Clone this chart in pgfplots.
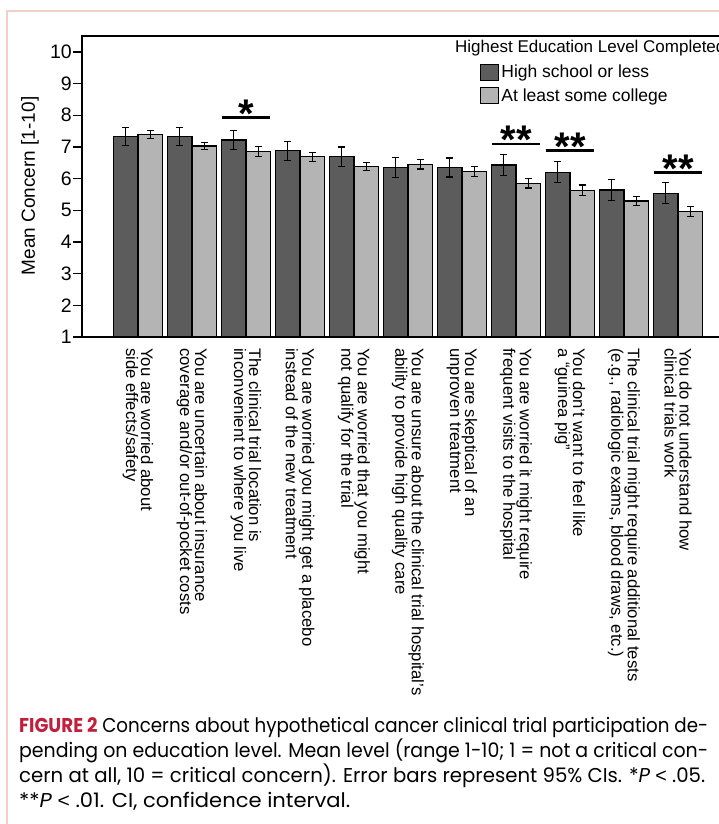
\documentclass[border=0pt]{standalone}
\usepackage{fontspec}
\setmainfont{Liberation Sans}
\newfontfamily\capfont{Poppins}
\newfontfamily\ltfont{Liberation Sans}
\usepackage{graphicx}
\usepackage{pgfplots}
\usepackage{pgfplotstable}
\pgfplotsset{compat=1.18}
\definecolor{darkbar}{RGB}{92,92,92}
\definecolor{lightbar}{RGB}{180,180,180}
\definecolor{pinkline}{RGB}{242,208,200}
\definecolor{figred}{RGB}{193,32,60}

\pgfplotstableread{
x hs hserr col colerr
0 7.33 0.28 7.40 0.13
1 7.33 0.28 7.03 0.12
2 7.22 0.29 6.85 0.16
3 6.88 0.30 6.69 0.14
4 6.69 0.31 6.38 0.13
5 6.35 0.31 6.45 0.15
6 6.35 0.30 6.22 0.16
7 6.43 0.33 5.85 0.15
8 6.20 0.33 5.63 0.17
9 5.64 0.34 5.29 0.14
10 5.54 0.33 4.96 0.16
}\data

\begin{document}
\begin{tikzpicture}
\draw[pinkline, line width=2pt] (7pt,-830pt) -- (7pt,-11pt) -- (730pt,-11pt);
\begin{axis}[
  at={(82pt,-337pt)}, anchor=south west,
  scale only axis, width=652pt, height=301pt,
  xmin=-1.037, xmax=11.037, ymin=1, ymax=10.5,
  ybar=0pt, bar width=24.5pt,
  axis line style={line width=1.3pt},
  ytick={1,...,10},
  xtick={0,...,10},
  xticklabels={
    {You are worried about\\side effects/safety},
    {You are uncertain about insurance\\coverage and/or out-of-pocket costs},
    {The clinical trial location is\\inconvenient to where you live},
    {You are worried you might get a placebo\\instead of the new treatment},
    {You are worried that you might\\not qualify for the trial},
    {You are unsure about the clinical trial hospital’s\\ability to provide high quality care},
    {You are skeptical of an\\unproven treatment},
    {You are worried it might require\\frequent visits to the hospital},
    {You don’t want to feel like\\a “guinea pig”},
    {The clinical trial might require additional tests\\(e.g., radiologic exams, blood draws, etc.)},
    {You do not understand how\\clinical trials work}},
  x tick style={draw=none},
  y tick style={line width=1.3pt, black},
  ytick align=outside, xtick align=inside,
  major tick length=9pt,
  yticklabel style={font=\fontsize{19.5}{19.5}\selectfont, inner sep=1pt},
  /pgf/number format/assume math mode=true,
  xticklabel style={rotate=-90, anchor=west, align=left, font=\fontsize{16.7}{15}\selectfont, inner sep=0pt},
  xticklabel shift=11pt,
  ylabel={Mean Concern [1-10]},
  ylabel style={at={(axis description cs:-0.0798,0.502)}, anchor=center, font=\fontsize{19}{19}\selectfont},
  legend style={at={(0.6104,0.9103)}, anchor=north west, draw=none, fill=none, inner sep=0pt, row sep=5pt, font=\fontsize{17.5}{17.5}\selectfont, /tikz/every even column/.append style={column sep=3pt}},
  legend cell align=left,
  error bars/y dir=both, error bars/y explicit,
]
\addplot[fill=darkbar, draw=black, line width=1.2pt,
  legend image code/.code={\draw[fill=darkbar, draw=black, line width=1.2pt] (0pt,-8pt) rectangle (18pt,8pt);},
  error bars/.cd, error bar style={line width=1.2pt, black},
  error mark options={line width=1.2pt, mark size=3.3pt, black, rotate=90}]
  table[x=x, y=hs, y error=hserr]{\data};
\addlegendentry{High school or less}
\addplot[fill=lightbar, draw=black, line width=1.2pt,
  legend image code/.code={\draw[fill=lightbar, draw=black, line width=1.2pt] (0pt,-8pt) rectangle (18pt,8pt);},
  error bars/.cd, error bar style={line width=1.2pt, black},
  error mark options={line width=1.2pt, mark size=3.3pt, black, rotate=90}]
  table[x=x, y=col, y error=colerr]{\data};
\addlegendentry{At least some college}
\node[anchor=base west, inner sep=0pt, font=\fontsize{17}{17}\selectfont] at (axis cs:5.87,9.977) {Highest Education Level Completed};
\draw[line width=2.5pt] (axis cs:1.55,7.93) -- (axis cs:2.45,7.93);
\draw[line width=2.5pt] (axis cs:6.55,7.09) -- (axis cs:7.45,7.09);
\draw[line width=2.5pt] (axis cs:7.55,6.88) -- (axis cs:8.45,6.88);
\draw[line width=2.5pt] (axis cs:9.55,6.20) -- (axis cs:10.45,6.20);
\node[anchor=base, inner sep=0pt, font=\bfseries\fontsize{40}{40}\selectfont] at (axis cs:2,7.62) {*};
\node[anchor=base, inner sep=0pt, font=\bfseries\fontsize{40}{40}\selectfont] at (axis cs:7,6.78) {**};
\node[anchor=base, inner sep=0pt, font=\bfseries\fontsize{40}{40}\selectfont] at (axis cs:8,6.57) {**};
\node[anchor=base, inner sep=0pt, font=\bfseries\fontsize{40}{40}\selectfont] at (axis cs:10,5.89) {**};
\end{axis}
\node[anchor=base west, inner sep=0pt] at (19pt,-732pt) {\resizebox{689pt}{\height}{\capfont\fontsize{20}{20}\selectfont{\bfseries\color{figred}FIGURE 2} Concerns about hypothetical cancer clinical trial participation de-}};
\node[anchor=base west, inner sep=0pt] at (19pt,-757pt) {\resizebox{689pt}{\height}{\capfont\fontsize{20}{20}\selectfont pending on education level. Mean level (range 1-10; 1 = not a critical con-}};
\node[anchor=base west, inner sep=0pt] at (19pt,-782pt) {\resizebox{686pt}{\height}{\capfont\fontsize{20}{20}\selectfont cern at all, 10 = critical concern). Error bars represent 95\% CIs. *\textit{P} {\ltfont <} .05.}};
\node[anchor=base west, inner sep=0pt] at (19pt,-807pt) {\resizebox{331pt}{\height}{\capfont\fontsize{20}{20}\selectfont **\textit{P} {\ltfont <} .01. CI, confidence interval.}};
\pgfresetboundingbox
\path[use as bounding box] (0pt,0pt) rectangle (718pt,-824pt);
\end{tikzpicture}
\end{document}
